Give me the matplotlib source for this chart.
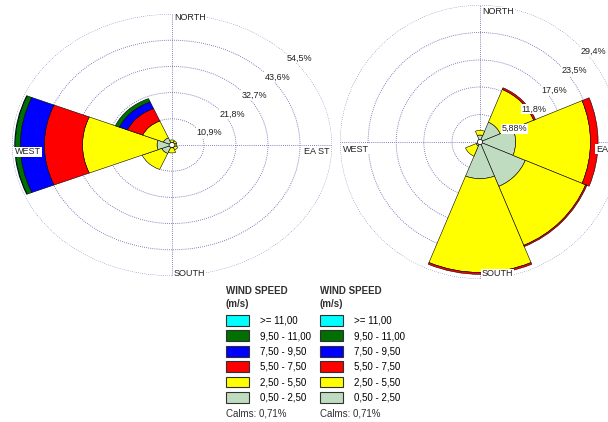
import numpy as np
import matplotlib
matplotlib.use('Agg')
import matplotlib.pyplot as plt
from matplotlib.patches import Patch

plt.rcParams['font.family'] = ['Liberation Sans', 'DejaVu Sans']

# 8 direction sectors, clockwise from north
directions = ['N', 'NE', 'E', 'SE', 'S', 'SW', 'W', 'NW']
speed_classes = ['0,50 - 2,50', '2,50 - 5,50', '5,50 - 7,50',
                 '7,50 - 9,50', '9,50 - 11,00', '>= 11,00']
class_colors = ['#c0dcc0', '#ffff00', '#ff0000', '#0000ff', '#007000', '#00ffff']

# frequencies (%) per speed class, per direction
left_050_250 = [1.0, 0.9, 1.0, 1.0, 1.2, 3.8, 5.1, 3.2]
left_250_550 = [1.1, 0.9, 0.6, 1.2, 2.1, 7.2, 25.4, 7.6]
left_550_750 = [0, 0, 0, 0, 0, 0, 13.0, 5.6]
left_750_950 = [0, 0, 0, 0, 0, 0, 8.2, 3.0]
left_950_1100 = [0, 0, 0, 0, 0, 0, 1.7, 1.5]
left_ge_1100 = [0, 0, 0, 0, 0, 0, 0.2, 0]

right_050_250 = [1.5, 4.6, 7.5, 10.3, 7.9, 0.9, 0.4, 0.4]
right_250_550 = [1.0, 7.6, 15.7, 13.7, 20.1, 2.4, 0, 0]
right_550_750 = [0, 0.4, 1.6, 0.3, 0.4, 0, 0, 0]
right_750_950 = [0, 0, 0, 0, 0, 0, 0, 0]
right_950_1100 = [0, 0, 0, 0, 0, 0, 0, 0]
right_ge_1100 = [0, 0, 0, 0, 0, 0, 0, 0]

left_rings = [10.9, 21.8, 32.7, 43.6, 54.5]
left_ring_labels = ['10,9%', '21,8%', '32,7%', '43,6%', '54,5%']
right_rings = [5.88, 11.8, 17.6, 23.5, 29.4]
right_ring_labels = ['5,88%', '11,8%', '17,6%', '23,5%', '29,4%']
calms_label = 'Calms: 0,71%'

grid_color = '#5b5bab'
fs = 6.5


def draw_rose(ax, classes, rings, ring_labels, calm_r, names, lab_off):
    ax.set_theta_zero_location('N')
    ax.set_theta_direction(-1)
    ax.set_aspect('auto')
    theta = np.radians(np.arange(len(directions)) * 45)
    bottom = np.zeros(len(directions))
    for vals, color in zip(classes, class_colors):
        vals = np.array(vals, dtype=float)
        m = vals > 0
        if m.any():
            ax.bar(theta[m], vals[m], width=np.radians(45), bottom=bottom[m],
                   color=color, edgecolor='black', linewidth=0.4, zorder=2)
        bottom += vals
    t = np.linspace(0, 2 * np.pi, 90)
    ax.fill(t, np.full(90, calm_r), facecolor='white', edgecolor='black',
            linewidth=0.5, zorder=3)

    ax.set_ylim(0, rings[-1])
    ax.set_rgrids(rings, labels=[''] * len(rings))
    ax.set_thetagrids([0, 90, 180, 270], labels=[''] * 4)
    ax.grid(color=grid_color, linestyle=(0, (1, 1.5)), linewidth=0.6)
    ax.spines['polar'].set_visible(False)
    ax.set_axisbelow(True)
    ax.tick_params(pad=0, length=0)

    for r, lab in zip(rings, ring_labels):
        ax.annotate(lab, xy=(np.pi / 4, r), xytext=(2, -6), textcoords='offset pixels',
                    ha='left', va='center', fontsize=fs, color='#202020', zorder=5,
                    bbox=dict(facecolor='white', edgecolor='none', pad=0.4))

    rmax = rings[-1]
    has = ['left', 'right', 'left', 'left']
    for ang, name, ha, off in zip([0, 90, 180, 270], names, has, lab_off):
        ax.annotate(name, xy=(np.radians(ang), rmax), xytext=off,
                    textcoords='offset pixels', ha=ha, va='center', fontsize=fs,
                    color='#202020', zorder=5, annotation_clip=False,
                    bbox=dict(facecolor='white', edgecolor='none', pad=0.4))


fig = plt.figure(figsize=(6.08, 4.22), dpi=100)

ax1 = fig.add_axes([12 / 608, 146 / 422, 320 / 608, 262 / 422], projection='polar')
draw_rose(ax1, [left_050_250, left_250_550, left_550_750, left_750_950,
                left_950_1100, left_ge_1100],
          left_rings, left_ring_labels, 1.0,
          ['NORTH', 'EA ST', 'SOUTH', 'WEST'],
          [(2, -3), (-2, -7), (2, 3), (3, -7)])

ax2 = fig.add_axes([340 / 608, 143 / 422, 280 / 608, 274 / 422], projection='polar')
draw_rose(ax2, [right_050_250, right_250_550, right_550_750, right_750_950,
                right_950_1100, right_ge_1100],
          right_rings, right_ring_labels, 0.55,
          ['NORTH', 'EA', 'SOUTH', 'WEST'],
          [(2, -7), (-12, -7), (2, 5), (3, -7)])

# legends
handles = [Patch(facecolor=c, edgecolor='#303030', linewidth=0.8) for c in class_colors[::-1]]
for x0 in [226, 320]:
    fig.legend(handles, speed_classes[::-1], loc='upper left',
               bbox_to_anchor=(x0 / 608, 1 - 315 / 422), frameon=False, fontsize=7,
               handlelength=2.4, handleheight=1.3, labelspacing=0.5,
               handletextpad=1.1, borderpad=0, borderaxespad=0)
    fig.text(x0 / 608, 1 - 291 / 422, 'WIND SPEED', fontsize=7, fontweight='bold',
             va='center', color='#303030')
    fig.text(x0 / 608, 1 - 304 / 422, '(m/s)', fontsize=7, fontweight='bold',
             va='center', color='#303030')
    fig.text(x0 / 608, 1 - 413 / 422, calms_label, fontsize=7, va='center',
             color='#303030')

fig.savefig('out.png', dpi=100)
